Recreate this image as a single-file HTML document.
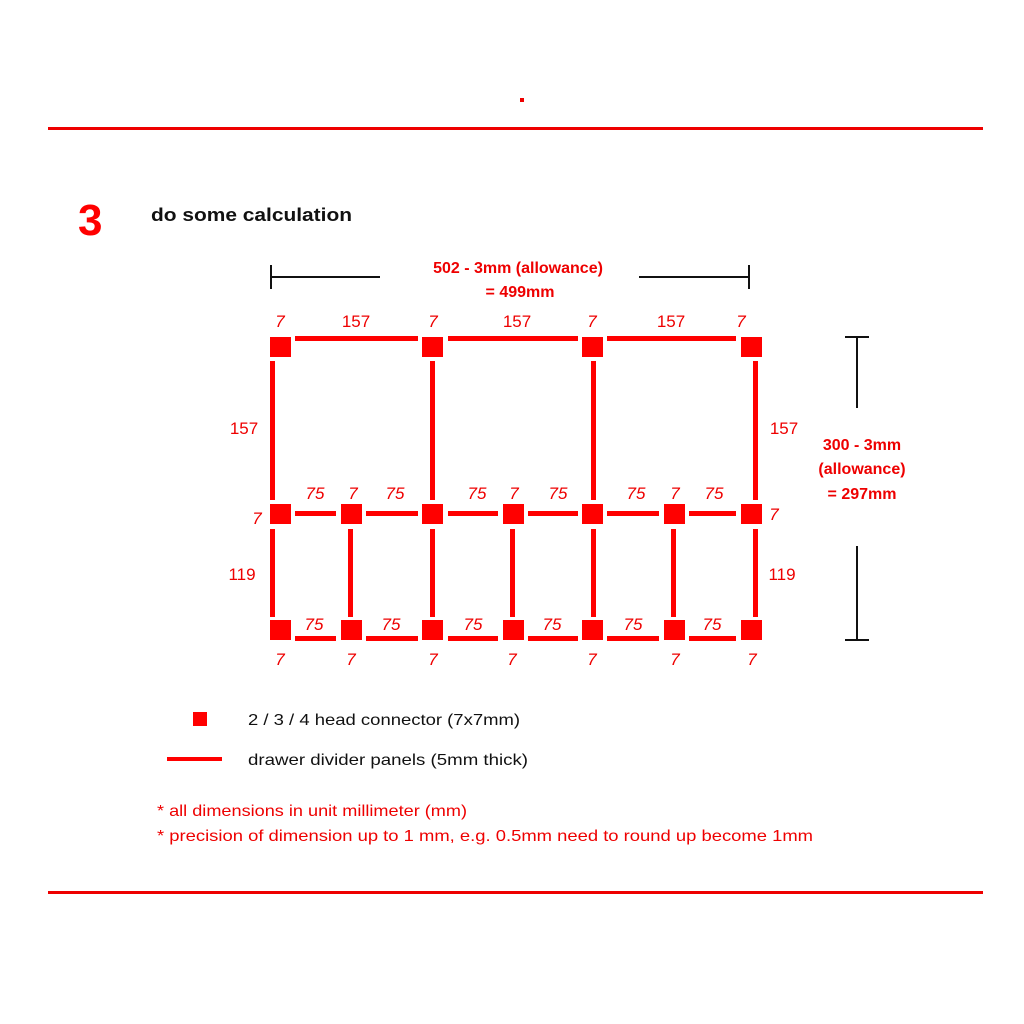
<!DOCTYPE html>
<html><head><style>
html,body{margin:0;padding:0;background:#fff;}
svg{display:block;}
text{font-family:"Liberation Sans",sans-serif;}
</style></head><body>
<svg width="1024" height="1024" viewBox="0 0 1024 1024" xmlns="http://www.w3.org/2000/svg">
<rect x="520" y="98" width="4" height="4" fill="#e00"/>
<rect x="48" y="127" width="935" height="3" fill="#e00"/>
<rect x="48" y="891" width="935" height="3" fill="#e00"/>
<text x="78" y="235" font-size="44" font-weight="bold" fill="#f00">3</text>
<text x="151" y="221" font-size="18" font-weight="bold" fill="#111" textLength="201" lengthAdjust="spacingAndGlyphs">do some calculation</text>

<g stroke="#111" stroke-width="2">
<line x1="271" y1="277" x2="380" y2="277"/><line x1="271" y1="265" x2="271" y2="289"/>
<line x1="639" y1="277" x2="749" y2="277"/><line x1="749" y1="265" x2="749" y2="289"/>
<line x1="857" y1="337" x2="857" y2="408"/><line x1="845" y1="337" x2="869" y2="337"/>
<line x1="857" y1="546" x2="857" y2="640"/><line x1="845" y1="640" x2="869" y2="640"/>
</g>
<g fill="#e00" font-weight="bold" font-size="16" text-anchor="middle">
<text x="518" y="273">502 - 3mm (allowance)</text>
<text x="520" y="297">= 499mm</text>
<text x="862" y="450">300 - 3mm</text>
<text x="862" y="474">(allowance)</text>
<text x="862" y="499">= 297mm</text>
</g>

<g fill="#f00">
<rect x="295" y="336" width="123" height="5"/>
<rect x="448" y="336" width="130" height="5"/>
<rect x="607" y="336" width="129" height="5"/>
<rect x="295" y="511" width="41" height="5"/>
<rect x="366" y="511" width="52" height="5"/>
<rect x="448" y="511" width="50" height="5"/>
<rect x="528" y="511" width="50" height="5"/>
<rect x="607" y="511" width="52" height="5"/>
<rect x="689" y="511" width="47" height="5"/>
<rect x="295" y="636" width="41" height="5"/>
<rect x="366" y="636" width="52" height="5"/>
<rect x="448" y="636" width="50" height="5"/>
<rect x="528" y="636" width="50" height="5"/>
<rect x="607" y="636" width="52" height="5"/>
<rect x="689" y="636" width="47" height="5"/>
<rect x="270" y="361" width="5" height="139"/>
<rect x="430" y="361" width="5" height="139"/>
<rect x="591" y="361" width="5" height="139"/>
<rect x="753" y="361" width="5" height="139"/>
<rect x="270" y="529" width="5" height="88"/>
<rect x="348" y="529" width="5" height="88"/>
<rect x="430" y="529" width="5" height="88"/>
<rect x="510" y="529" width="5" height="88"/>
<rect x="591" y="529" width="5" height="88"/>
<rect x="671" y="529" width="5" height="88"/>
<rect x="753" y="529" width="5" height="88"/>
<rect x="270" y="337" width="21" height="20"/>
<rect x="422" y="337" width="21" height="20"/>
<rect x="582" y="337" width="21" height="20"/>
<rect x="741" y="337" width="21" height="20"/>
<rect x="270" y="504" width="21" height="20"/>
<rect x="341" y="504" width="21" height="20"/>
<rect x="422" y="504" width="21" height="20"/>
<rect x="503" y="504" width="21" height="20"/>
<rect x="582" y="504" width="21" height="20"/>
<rect x="664" y="504" width="21" height="20"/>
<rect x="741" y="504" width="21" height="20"/>
<rect x="270" y="620" width="21" height="20"/>
<rect x="341" y="620" width="21" height="20"/>
<rect x="422" y="620" width="21" height="20"/>
<rect x="503" y="620" width="21" height="20"/>
<rect x="582" y="620" width="21" height="20"/>
<rect x="664" y="620" width="21" height="20"/>
<rect x="741" y="620" width="21" height="20"/>
<rect x="193" y="712" width="14" height="14"/>
<rect x="167" y="757" width="55" height="4"/>
</g>

<g fill="#e00" font-size="17" text-anchor="middle">
<text x="280" y="327" font-style="italic">7</text>
<text x="356" y="327">157</text>
<text x="433" y="327" font-style="italic">7</text>
<text x="517" y="327">157</text>
<text x="592" y="327" font-style="italic">7</text>
<text x="671" y="327">157</text>
<text x="741" y="327" font-style="italic">7</text>
<text x="244" y="434">157</text>
<text x="784" y="434">157</text>
<text x="257" y="524" font-style="italic">7</text>
<text x="774" y="520" font-style="italic">7</text>
<text x="315" y="499" font-style="italic">75</text>
<text x="353" y="499" font-style="italic">7</text>
<text x="395" y="499" font-style="italic">75</text>
<text x="477" y="499" font-style="italic">75</text>
<text x="514" y="499" font-style="italic">7</text>
<text x="558" y="499" font-style="italic">75</text>
<text x="636" y="499" font-style="italic">75</text>
<text x="675" y="499" font-style="italic">7</text>
<text x="714" y="499" font-style="italic">75</text>
<text x="242" y="580">119</text>
<text x="782" y="580">119</text>
<text x="314" y="630" font-style="italic">75</text>
<text x="391" y="630" font-style="italic">75</text>
<text x="473" y="630" font-style="italic">75</text>
<text x="552" y="630" font-style="italic">75</text>
<text x="633" y="630" font-style="italic">75</text>
<text x="712" y="630" font-style="italic">75</text>
<text x="280" y="665" font-style="italic">7</text>
<text x="351" y="665" font-style="italic">7</text>
<text x="433" y="665" font-style="italic">7</text>
<text x="512" y="665" font-style="italic">7</text>
<text x="592" y="665" font-style="italic">7</text>
<text x="675" y="665" font-style="italic">7</text>
<text x="752" y="665" font-style="italic">7</text>
</g>

<text x="248" y="725" font-size="16" fill="#111" textLength="272" lengthAdjust="spacingAndGlyphs">2 / 3 / 4 head connector (7x7mm)</text>
<text x="248" y="765" font-size="16" fill="#111" textLength="280" lengthAdjust="spacingAndGlyphs">drawer divider panels (5mm thick)</text>
<text x="157" y="816" font-size="16" fill="#e00" textLength="310" lengthAdjust="spacingAndGlyphs">* all dimensions in unit millimeter (mm)</text>
<text x="157" y="841" font-size="16" fill="#e00" textLength="656" lengthAdjust="spacingAndGlyphs">* precision of dimension up to 1 mm, e.g. 0.5mm need to round up become 1mm</text>
</svg>
</body></html>
